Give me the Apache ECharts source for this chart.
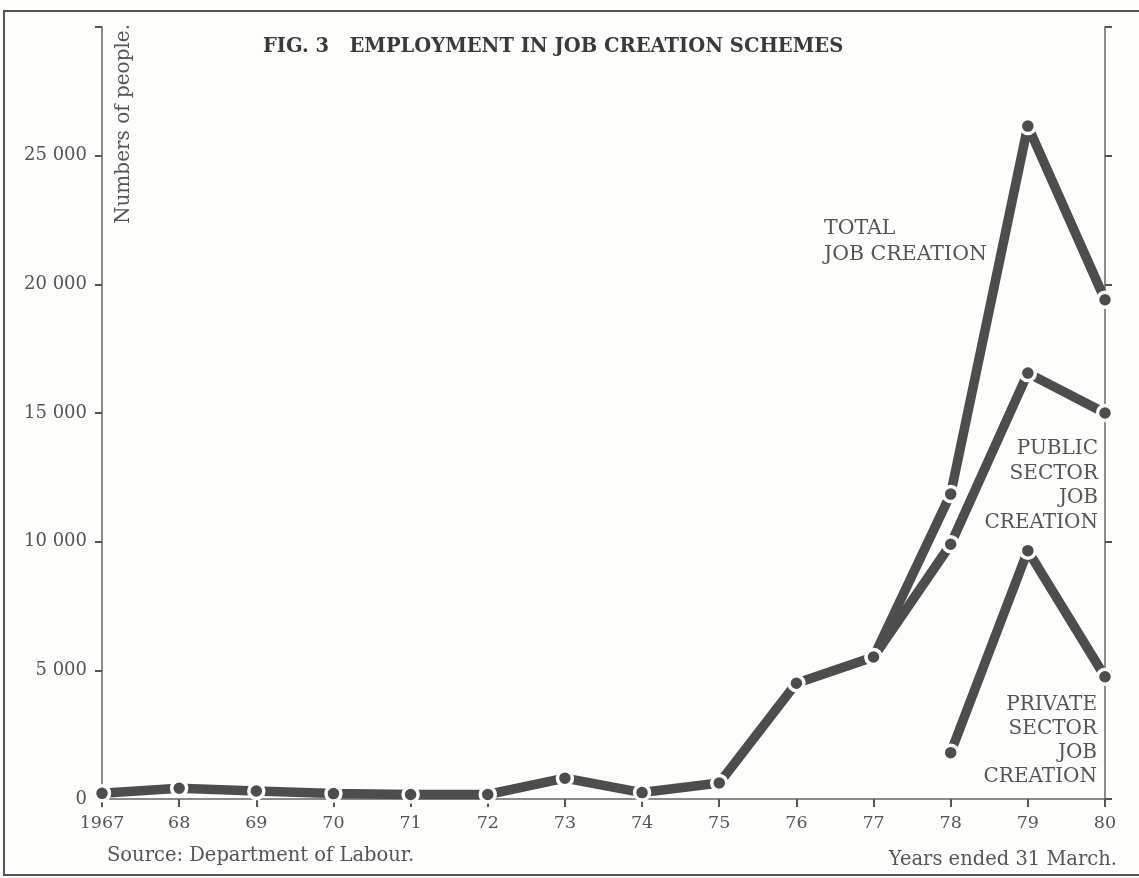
<!DOCTYPE html>
<html>
<head>
<meta charset="utf-8">
<script src="https://cdn.jsdelivr.net/npm/echarts@6/dist/echarts.min.js"></script>
<style>
    html, body { margin: 0; padding: 0; background: #fdfdfc; }
    #chart { width: 1139px; height: 878px; }
</style>
</head>
<body>
<div id="chart"></div>
<script>
// years ended 31 March
const years = ['1967', '68', '69', '70', '71', '72', '73', '74', '75', '76', '77', '78', '79', '80'];
const totalJobs = [220, 420, 310, 210, 175, 175, 810, 250, 620, 4500, 5520, 11850, 26150, 19400];
const publicJobs = [null, null, null, null, null, null, null, null, null, null, 5520, 9900, 16550, 15000];
const privateJobs = [null, null, null, null, null, null, null, null, null, null, null, 1800, 9650, 4750];
const yTicks = [0, 5000, 10000, 15000, 20000, 25000];

const ink = '#4d4d4d';
const textGray = '#555';
const serif = '"DejaVu Serif", "Liberation Serif", serif';

const chart = echarts.init(document.getElementById('chart'));

// thick line with dots, white ring leaves the small gap seen on the print
const makeSeries = (name, data) => ({
    name: name,
    type: 'line',
    data: data,
    yAxisIndex: 0,
    symbol: 'circle',
    symbolSize: 15,
    showAllSymbol: true,
    connectNulls: false,
    lineStyle: { color: ink, width: 9.5, cap: 'butt' },
    itemStyle: { color: ink, borderColor: '#fdfdfc', borderWidth: 3.5 },
    emphasis: { disabled: true },
    animation: false
});

const fmt = (v) => {
    if (yTicks.indexOf(v) < 0) return '';
    return v >= 1000 ? Math.floor(v / 1000) + ' ' + String(v % 1000).padStart(3, '0') : String(v);
};

const option = {
    backgroundColor: '#fdfdfc',
    animation: false,
    title: {
        text: 'FIG. 3   EMPLOYMENT IN JOB CREATION SCHEMES',
        left: 258,
        top: 32,
        textStyle: { fontFamily: serif, fontWeight: 'bold', fontSize: 19.5, color: '#3a3a3a' }
    },
    grid: { left: 102, right: 34, top: 27, bottom: 79 },
    xAxis: {
        type: 'category',
        data: years,
        boundaryGap: false,
        axisLine: { lineStyle: { color: '#666', width: 1.5 } },
        axisTick: { show: true, length: 8, lineStyle: { color: '#555', width: 2 } },
        axisLabel: { color: textGray, fontFamily: serif, fontSize: 17.5, margin: 15 },
        splitLine: { show: false }
    },
    yAxis: [
        {
            type: 'value',
            min: 0,
            max: 30000,
            interval: 5000,
            axisLine: { show: true, lineStyle: { color: '#666', width: 1.5 } },
            axisTick: { show: true, length: 7, lineStyle: { color: '#555', width: 2 } },
            axisLabel: { color: textGray, fontFamily: serif, fontSize: 18, margin: 15, formatter: fmt },
            splitLine: { show: false }
        },
        {
            type: 'value',
            position: 'right',
            min: 0,
            max: 30000,
            interval: 5000,
            axisLine: { show: true, lineStyle: { color: '#666', width: 1.5 } },
            axisTick: { show: true, length: 7, lineStyle: { color: '#555', width: 2 } },
            axisLabel: { show: false },
            splitLine: { show: false }
        }
    ],
    series: [
        makeSeries('Total job creation', totalJobs),
        makeSeries('Public sector job creation', publicJobs),
        makeSeries('Private sector job creation', privateJobs)
    ],
    graphic: [
        {
            type: 'rect',
            shape: { x: 4, y: 11, width: 1160, height: 864 },
            style: { fill: 'none', stroke: '#555', lineWidth: 2 },
            silent: true
        },
        {
            type: 'text',
            x: 124, y: 124,
            rotation: Math.PI / 2,
            style: {
                text: 'Numbers of people.',
                font: '20px ' + serif,
                fill: textGray,
                align: 'center',
                verticalAlign: 'middle'
            }
        },
        {
            type: 'text',
            x: 824, y: 216,
            style: {
                text: 'TOTAL\nJOB CREATION',
                font: '20.5px ' + serif,
                lineHeight: 26,
                fill: textGray,
                align: 'left'
            }
        },
        {
            type: 'text',
            x: 1098, y: 437,
            style: {
                text: 'PUBLIC\nSECTOR\nJOB\nCREATION',
                font: '20px ' + serif,
                lineHeight: 24.5,
                fill: textGray,
                align: 'right'
            }
        },
        {
            type: 'text',
            x: 1097, y: 693,
            style: {
                text: 'PRIVATE\nSECTOR\nJOB\nCREATION',
                font: '20px ' + serif,
                lineHeight: 24,
                fill: textGray,
                align: 'right'
            }
        },
        {
            type: 'text',
            x: 107, y: 856,
            style: {
                text: 'Source: Department of Labour.',
                font: '19.5px ' + serif,
                fill: textGray,
                align: 'left',
                verticalAlign: 'middle'
            }
        },
        {
            type: 'text',
            x: 1117, y: 860,
            style: {
                text: 'Years ended 31 March.',
                font: '19.5px ' + serif,
                fill: textGray,
                align: 'right',
                verticalAlign: 'middle'
            }
        }
    ]
};

chart.setOption(option);
</script>
</body>
</html>
